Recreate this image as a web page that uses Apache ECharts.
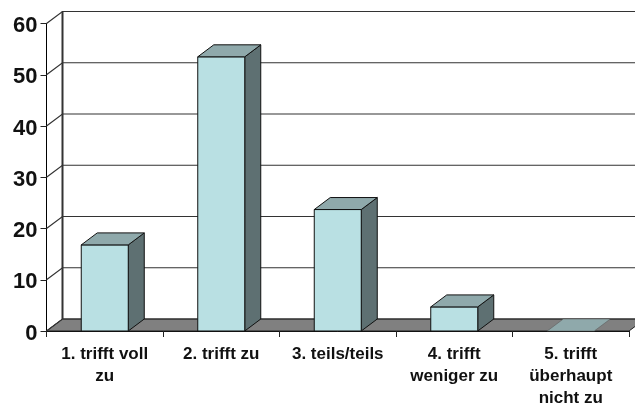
<!DOCTYPE html>
<html><head><meta charset="utf-8">
<style>html,body{margin:0;padding:0;background:#fff}#c{width:635px;height:403px}</style>
<script src="https://cdn.jsdelivr.net/npm/echarts@6/dist/echarts.min.js"></script>
</head><body><div id="c"></div>
<script>
const categories = ['1. trifft voll\nzu','2. trifft zu','3. teils/teils','4. trifft\nweniger zu','5. trifft\nüberhaupt\nnicht zu'];
const values = [16.8, 53.5, 23.7, 4.7, 0];
const yTicks = [0,10,20,30,40,50,60];
const DX = 16, DY = -12;
const chart = echarts.init(document.getElementById('c'), null, {renderer:'canvas'});
const poly = (pts, fill, stroke, w) => ({type:'polygon', shape:{points:pts}, style:{fill, stroke, lineWidth:w===undefined?1:w}});
const line = (pts, stroke, w) => ({type:'polyline', shape:{points:pts}, style:{fill:'none', stroke, lineWidth:w}});
const yLabelStyle = {color:'#111',fontFamily:'Liberation Sans',fontWeight:'bold',fontSize:22,padding:[5,0,0,0]};
chart.setOption({
  animation:false,
  grid:{left:46.5,right:6,top:23.5,bottom:72,containLabel:false,outerBoundsMode:'none'},
  xAxis:{type:'category',data:categories,
    axisLine:{show:true,lineStyle:{color:'#000',width:1}},
    axisTick:{show:true,length:6,alignWithLabel:false,lineStyle:{color:'#222'}},
    axisLabel:{interval:0,margin:12,color:'#111',fontFamily:'Liberation Sans',fontWeight:'bold',fontSize:17,lineHeight:22,hideOverlap:false}},
  yAxis:{type:'value',min:0,max:60,interval:10,
    axisLine:{show:true,lineStyle:{color:'#000',width:1}},
    axisTick:{show:true,length:6,lineStyle:{color:'#222'}},
    splitLine:{show:false},
    axisLabel:{margin:9,formatter:'{n|{value}}',rich:{n:yLabelStyle}}},
  series:[
    {type:'custom',coordinateSystem:'cartesian2d',z:1,silent:true,clip:false,data:[[0,0]],
     renderItem:(p,api)=>{
       const c=p.coordSys, b=c.y+c.height, l=c.x, r=c.x+c.width;
       return {type:'group',children:[
         poly([[l,b],[l+DX,b+DY],[r+DX,b+DY],[r,b]],'#808080','#222',1),
         line([[l+DX,b+DY],[l+DX,c.y+DY]],'#333',2)
       ]};
     }},
    {type:'custom',coordinateSystem:'cartesian2d',z:2,silent:true,clip:false,
     data:yTicks.map(t=>[0,t]),
     renderItem:(p,api)=>{
       const c=p.coordSys, y=api.coord([0,api.value(1)])[1], l=c.x;
       return line([[l,y],[l+DX,y+DY],[c.x+c.width+DX,y+DY]],'#333',1.2);
     }},
    {type:'custom',coordinateSystem:'cartesian2d',z:3,silent:true,clip:false,
     encode:{x:0,y:1},
     data:values.map((v,i)=>[i,v]),
     renderItem:(p,api)=>{
       const [cx,top]=api.coord([api.value(0),api.value(1)]);
       const base=api.coord([api.value(0),0])[1];
       const w=47, x0=cx-w/2, x1=cx+w/2;
       const kids=[];
       if(base-top>0.5){
         kids.push(poly([[x1,top],[x1+DX,top+DY],[x1+DX,base+DY],[x1,base]],'#5e7072','#111',1));
         kids.push(poly([[x0,top],[x1,top],[x1,base],[x0,base]],'#b9e0e3','#111',1));
         kids.push(poly([[x0,top],[x0+DX,top+DY],[x1+DX,top+DY],[x1,top]],'#8fa9ab','#111',1));
       } else {
         kids.push(poly([[x0,top],[x0+DX,top+DY],[x1+DX,top+DY],[x1,top]],'#8fa9ab','#555',0.5));
       }
       return {type:'group',children:kids};
     }}
  ]
});
</script></body></html>
